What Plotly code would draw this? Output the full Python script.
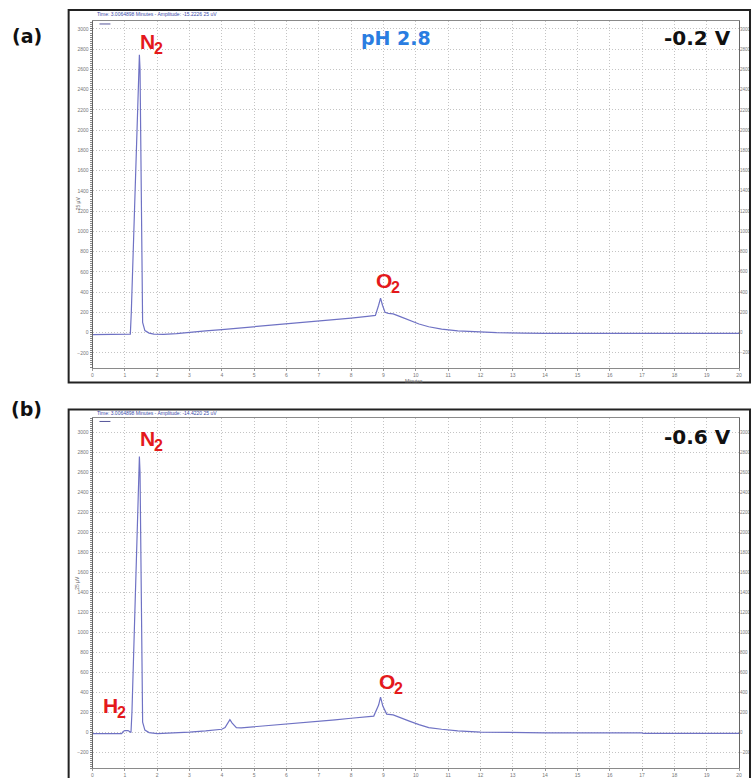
import plotly.graph_objects as go

# ---- chromatogram data (retention time in minutes, detector amplitude in 25 uV units) ----
time_a = [0.0, 1.15, 1.17, 1.20, 1.28, 1.36, 1.42, 1.45, 1.47, 1.49, 1.52, 1.55, 1.62, 1.75,
          1.9, 2.2, 2.6, 3.0, 3.5, 4.0, 4.3, 4.4, 5.0, 5.78, 6.5, 7.0, 7.5, 8.0, 8.5, 8.75,
          8.85, 8.91, 8.97, 9.05, 9.15, 9.3, 9.5, 9.8, 10.1, 10.4, 10.8, 11.3, 11.9, 12.5,
          13.3, 14.0, 20.0]
amp_a = [-20, -20, -15, 200, 1000, 1900, 2550, 2745, 2600, 1800, 600, 100, 20, -5,
         -15, -18, -10, 5, 18, 30, 38, 45, 58, 78, 100, 115, 128, 143, 160, 170,
         270, 340, 270, 200, 190, 185, 160, 120, 85, 58, 35, 18, 6, 0,
         -5, -8, -8]

time_b = [0.0, 0.9, 0.95, 1.0, 1.1, 1.15, 1.19, 1.22, 1.30, 1.37, 1.42, 1.45, 1.47, 1.49,
          1.52, 1.55, 1.62, 1.75, 2.0, 2.5, 3.0, 3.5, 4.0, 4.1, 4.2, 4.25, 4.32, 4.45, 4.6,
          5.0, 5.8, 6.5, 7.0, 7.5, 8.0, 8.7, 8.85, 8.91, 8.98, 9.1, 9.3, 9.5, 9.8, 10.1,
          10.4, 10.8, 11.3, 12.0, 13.0, 14.0, 17.0, 17.05, 20.0]
amp_b = [-15, -15, 5, 15, 15, 8, -5, 200, 1100, 2000, 2600, 2760, 2600, 1800,
         600, 100, 20, -5, -15, -10, 0, 12, 28, 45, 100, 125, 90, 45, 42,
         52, 72, 92, 108, 122, 138, 160, 270, 350, 260, 180, 172, 150, 110, 75,
         45, 28, 12, 0, -5, -8, -8, -14, -14]

y_ticks = [-200, 0, 200, 400, 600, 800, 1000, 1200, 1400, 1600, 1800, 2000,
           2200, 2400, 2600, 2800, 3000]
x_ticks = list(range(0, 21))

W, H = 755, 778
LINE_COLOR = "#6f72c4"
FONT = "Arial, Liberation Sans, sans-serif"
WIDE = "DejaVu Sans, Verdana, sans-serif"


def px(x):
    return x / W


def py(y):
    return 1 - y / H


fig = go.Figure()
fig.add_trace(go.Scatter(x=time_a, y=amp_a, mode="lines",
                         line=dict(color=LINE_COLOR, width=1.2),
                         xaxis="x", yaxis="y", showlegend=False))
fig.add_trace(go.Scatter(x=time_b, y=amp_b, mode="lines",
                         line=dict(color=LINE_COLOR, width=1.2),
                         xaxis="x2", yaxis="y3", showlegend=False))

x_dom = [px(92), px(742)]
dom_a = [py(368), py(21)]
dom_b = [py(769), py(419)]
range_a = [-345, 3079]
range_b = [-360, 3140]

tick_font = dict(family=FONT, size=5, color="#777777")
grid = dict(showgrid=True, gridcolor="#c4c4c4", griddash="1px,2px", gridwidth=1)


def xaxis(anchor):
    return dict(domain=x_dom, anchor=anchor, range=[0, 20], tickvals=x_ticks,
                tickfont=tick_font, ticks="outside", ticklen=2, tickcolor="#999",
                showline=True, linecolor="#8a8a8a", linewidth=1, mirror=True,
                zeroline=False, **grid)


def yaxis(anchor, dom, rng):
    return dict(domain=dom, anchor=anchor, range=rng, tickvals=y_ticks,
                tickfont=tick_font, ticks="outside", ticklen=2, tickcolor="#777",
                minor=dict(ticks="outside", dtick=20, ticklen=2, tickcolor="#888",
                           showgrid=False),
                showline=True, linecolor="#666666", linewidth=1, mirror=True,
                zeroline=False, **grid)


def yaxis_right(overlay, anchor, dom, rng):
    return dict(domain=dom, anchor=anchor, overlaying=overlay, side="right",
                range=rng, tickvals=y_ticks, tickfont=dict(family=FONT, size=4.5,
                                                           color="#777777"),
                ticks="", showgrid=False, zeroline=False, showline=False)


fig.update_layout(
    width=W, height=H, margin=dict(l=0, r=0, t=0, b=0),
    paper_bgcolor="white", plot_bgcolor="white",
    xaxis=xaxis("y"),
    yaxis=yaxis("x", dom_a, range_a),
    yaxis2=yaxis_right("y", "x", dom_a, range_a),
    xaxis2=xaxis("y3"),
    yaxis3=yaxis("x2", dom_b, range_b),
    yaxis4=yaxis_right("y3", "x2", dom_b, range_b),
)
# empty traces so the right-hand axes render their labels
fig.add_trace(go.Scatter(x=[None], y=[None], xaxis="x", yaxis="y2", showlegend=False))
fig.add_trace(go.Scatter(x=[None], y=[None], xaxis="x2", yaxis="y4", showlegend=False))

shapes = [
    # outer panel frames
    dict(type="rect", xref="paper", yref="paper", x0=px(68), x1=px(753),
         y0=py(383), y1=py(10), line=dict(color="#222222", width=2)),
    dict(type="rect", xref="paper", yref="paper", x0=px(68), x1=px(753),
         y0=py(790), y1=py(410), line=dict(color="#222222", width=2)),
    # small legend swatches in the plot corners
    dict(type="line", xref="paper", yref="paper", x0=px(99), x1=px(110),
         y0=py(24), y1=py(24), line=dict(color="#555599", width=1)),
    dict(type="line", xref="paper", yref="paper", x0=px(99), x1=px(110),
         y0=py(422), y1=py(422), line=dict(color="#555599", width=1)),
]
fig.update_layout(shapes=shapes)

small = dict(family=FONT, size=5, color="#3b4aa8")
axis_title = dict(family=FONT, size=5, color="#666666")
RED = "#e4191c"


def label(text, x, y, xref, yref, color, size=21, xanchor="center", xshift=0, yshift=0,
          family=FONT):
    return dict(text=text, x=x, y=y, xref=xref, yref=yref, showarrow=False,
                xanchor=xanchor, yanchor="middle", xshift=xshift, yshift=yshift,
                font=dict(family=family, size=size, color=color))


def species(symbol, x, y, xref, yref):
    # element symbol with its subscript drawn as a smaller trailing text
    return [
        label("<b>%s</b>" % symbol, x, y, xref, yref, RED, 21, xanchor="right", xshift=1),
        label("<b>2</b>", x, y, xref, yref, RED, 16, xanchor="left", xshift=-4, yshift=-7),
    ]


annotations = [
    dict(text="Time: 3.0064898 Minutes - Amplitude: -15.2226 25 uV", x=px(95), y=py(14),
         xref="paper", yref="paper", showarrow=False, xanchor="left", yanchor="middle",
         font=small),
    dict(text="Time: 3.0064898 Minutes - Amplitude: -14.4220 25 uV", x=px(95), y=py(414),
         xref="paper", yref="paper", showarrow=False, xanchor="left", yanchor="middle",
         font=small),
    dict(text="25 µV", x=px(72), y=py(195), xref="paper", yref="paper", showarrow=False,
         textangle=-90, font=axis_title),
    dict(text="25 µV", x=px(72), y=py(593), xref="paper", yref="paper", showarrow=False,
         textangle=-90, font=axis_title),
    dict(text="Minutes", x=px(415), y=py(381), xref="paper", yref="paper",
         showarrow=False, font=axis_title),
    # panel tags
    label("<b>(a)</b>", px(26), py(36), "paper", "paper", "#111111", 19, family=WIDE),
    label("<b>(b)</b>", px(26), py(410), "paper", "paper", "#111111", 19, family=WIDE),
    label("<b>pH 2.8</b>", px(397), py(38), "paper", "paper", "#2a7de1", 19, family=WIDE),
    label("<b>-0.2 V</b>", px(700), py(38), "paper", "paper", "#111111", 20, family=WIDE),
    label("<b>-0.6 V</b>", px(700), py(438), "paper", "paper", "#111111", 20, family=WIDE),
]
# gas peak labels
annotations += species("N", 1.95, 2880, "x", "y")
annotations += species("O", 9.3, 510, "x", "y")
annotations += species("N", 1.95, 2940, "x2", "y3")
annotations += species("H", 0.82, 265, "x2", "y3")
annotations += species("O", 9.4, 505, "x2", "y3")
fig.update_layout(annotations=annotations)

fig.write_html("out.html")
